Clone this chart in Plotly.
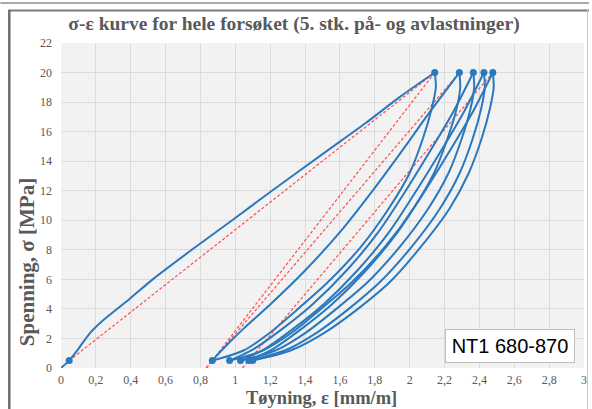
import plotly.graph_objects as go

# Canvas and plot-area geometry (pixels)
W, H = 592, 409
ML, MR, MT, MB = 61, 5, 43, 41

# ---- measured data: strain [mm/m] and stress [MPa] ----
# first loading
load_eps = [0, 0.047, 0.1, 0.165, 0.232, 0.393, 0.526, 0.75, 0.982, 1.21, 1.514, 1.75, 1.95, 2.144]
load_sig = [0, 0.5, 1.3, 2.35, 3.13, 4.67, 6.0, 8.0, 10.0, 12.0, 14.6, 16.6, 18.4, 20]

# unloading branches (peak -> minimum), common stress levels
unload_sig = [20, 19, 17.5, 15.5, 13.2, 10.8, 8.2, 5.8, 3.9, 2.4, 1.2, 0.5]
unload1_eps = [2.144, 2.150, 2.125, 2.075, 2.0, 1.88, 1.72, 1.53, 1.35, 1.2, 1.05, 0.868]
unload2_eps = [2.285, 2.290, 2.268, 2.216, 2.140, 2.021, 1.858, 1.668, 1.481, 1.325, 1.161, 0.967]
unload3_eps = [2.365, 2.370, 2.348, 2.298, 2.223, 2.107, 1.943, 1.758, 1.569, 1.405, 1.233, 1.03]
unload4_eps = [2.426, 2.431, 2.409, 2.361, 2.287, 2.174, 2.011, 1.828, 1.640, 1.468, 1.287, 1.077]
unload5_eps = [2.477, 2.482, 2.459, 2.412, 2.339, 2.229, 2.064, 1.885, 1.692, 1.513, 1.320, 1.10]

# reloading branches (minimum -> next peak), common stress levels
reload_sig = [0.5, 1.3, 2.7, 4.3, 6.6, 9.2, 12.2, 14.6, 17.4, 20]
reload2_eps = [0.868, 0.93, 1.05, 1.2, 1.4, 1.6, 1.8, 1.95, 2.12, 2.285]
reload3_eps = [0.967, 1.107, 1.275, 1.442, 1.638, 1.820, 1.988, 2.113, 2.253, 2.365]
reload4_eps = [1.03, 1.170, 1.337, 1.505, 1.700, 1.882, 2.049, 2.175, 2.314, 2.426]
reload5_eps = [1.077, 1.217, 1.385, 1.553, 1.749, 1.931, 2.099, 2.225, 2.365, 2.477]

# turning points
peak_eps = [2.144, 2.285, 2.365, 2.426, 2.477]
peak_sig = 20
min_eps = [0.868, 0.967, 1.03, 1.077, 1.10]
min_sig = 0.5
start_eps, start_sig = 0.047, 0.5

# secant lines (lower point -> peak), extended to zero stress when flagged
secant_lo_eps = [0.047, 0.868, 0.868, 1.077]
secant_hi_eps = [2.144, 2.144, 2.285, 2.477]
secant_extend = [False, True, True, True]

x_ticks = [0, 0.2, 0.4, 0.6, 0.8, 1, 1.2, 1.4, 1.6, 1.8, 2, 2.2, 2.4, 2.6, 2.8, 3]
y_ticks = [0, 2, 4, 6, 8, 10, 12, 14, 16, 18, 20, 22]

BLUE = "#2a78bd"
RED = "#ff4d4d"
GREY = "#595959"
SERIF = "Liberation Serif, Times New Roman, serif"

fig = go.Figure()

# secant (modulus) lines
for lo, hi, ext in zip(secant_lo_eps, secant_hi_eps, secant_extend):
    slope = (peak_sig - min_sig) / (hi - lo)
    x0, y0 = (lo - min_sig / slope, 0) if ext else (lo, min_sig)
    fig.add_trace(go.Scatter(x=[x0, hi], y=[y0, peak_sig], mode="lines",
                             line=dict(color=RED, width=1.2, dash="3px,2px"),
                             hoverinfo="skip", showlegend=False))

# hysteresis branches
branches = [
    (load_eps, load_sig),
    (unload1_eps, unload_sig), (reload2_eps, reload_sig),
    (unload2_eps, unload_sig), (reload3_eps, reload_sig),
    (unload3_eps, unload_sig), (reload4_eps, reload_sig),
    (unload4_eps, unload_sig), (reload5_eps, reload_sig),
    (unload5_eps, unload_sig),
]
for ex, sy in branches:
    fig.add_trace(go.Scatter(x=ex, y=sy, mode="lines",
                             line=dict(color=BLUE, width=2, shape="spline", smoothing=0.8),
                             showlegend=False))

# turning-point markers
mk_x = [start_eps] + peak_eps + min_eps
mk_y = [start_sig] + [peak_sig] * len(peak_eps) + [min_sig] * len(min_eps)
fig.add_trace(go.Scatter(x=mk_x, y=mk_y, mode="markers",
                         marker=dict(color=BLUE, size=7), showlegend=False))

pw, ph = W - ML - MR, H - MT - MB


def px(xp):
    return (xp - ML) / pw


def py(yp):
    return (H - MB - yp) / ph


frame = dict(type="line", xref="paper", yref="paper", layer="above")
shapes = [
    dict(frame, x0=px(0), x1=px(W), y0=py(3), y1=py(3), line=dict(color="#8c8c8c", width=1.5)),
    dict(frame, x0=px(8), x1=px(W), y0=py(10.5), y1=py(10.5), line=dict(color="#7a7a7a", width=2)),
    dict(frame, x0=px(9), x1=px(9), y0=py(10), y1=py(H), line=dict(color="#6e6e6e", width=2.5)),
    dict(frame, x0=px(590.5), x1=px(590.5), y0=py(10), y1=py(H), line=dict(color="#c8c8c8", width=1)),
]

annotations = [
    dict(text="<b>Tøyning, ε [mm/m]</b>", xref="paper", yref="paper", x=px(323), y=py(398),
         xanchor="center", yanchor="middle", showarrow=False,
         font=dict(family=SERIF, size=18.5, color=GREY)),
    dict(text="<b>Spenning, σ [MPa]</b>", xref="paper", yref="paper", x=px(27), y=py(262),
         xanchor="center", yanchor="middle", showarrow=False, textangle=-90,
         font=dict(family=SERIF, size=21, color=GREY)),
    dict(text="NT1 680-870", xref="paper", yref="paper", x=px(513), y=py(346),
         xanchor="center", yanchor="middle", showarrow=False,
         width=120, height=24, borderpad=4, bgcolor="white",
         bordercolor="#bfbfbf", borderwidth=1,
         font=dict(family="Liberation Sans, Arial, sans-serif", size=20, color="black")),
]

fig.update_layout(
    width=W, height=H,
    margin=dict(l=ML, r=MR, t=MT, b=MB),
    paper_bgcolor="white", plot_bgcolor="#f2f2f2",
    separators=", ",
    title=dict(text="<b>σ-ε kurve for hele forsøket (5. stk. på- og avlastninger)</b>",
               x=294 / W, xanchor="center", xref="container",
               y=1 - 23 / H, yanchor="middle", yref="container",
               font=dict(family=SERIF, size=19.5, color=GREY)),
    shapes=shapes,
    annotations=annotations,
    showlegend=False,
)
fig.update_xaxes(range=[0, 3], tickvals=x_ticks, showgrid=True, gridcolor="#dcdcdc", gridwidth=1,
                 zeroline=False, showline=False, ticks="", ticklabelstandoff=3,
                 tickfont=dict(family=SERIF, size=12, color=GREY))
fig.update_yaxes(range=[0, 22], tickvals=y_ticks, showgrid=True, gridcolor="#dcdcdc", gridwidth=1,
                 zeroline=False, showline=False, ticks="", ticklabelstandoff=8,
                 tickfont=dict(family=SERIF, size=12, color=GREY))

fig.write_html("out.html")
